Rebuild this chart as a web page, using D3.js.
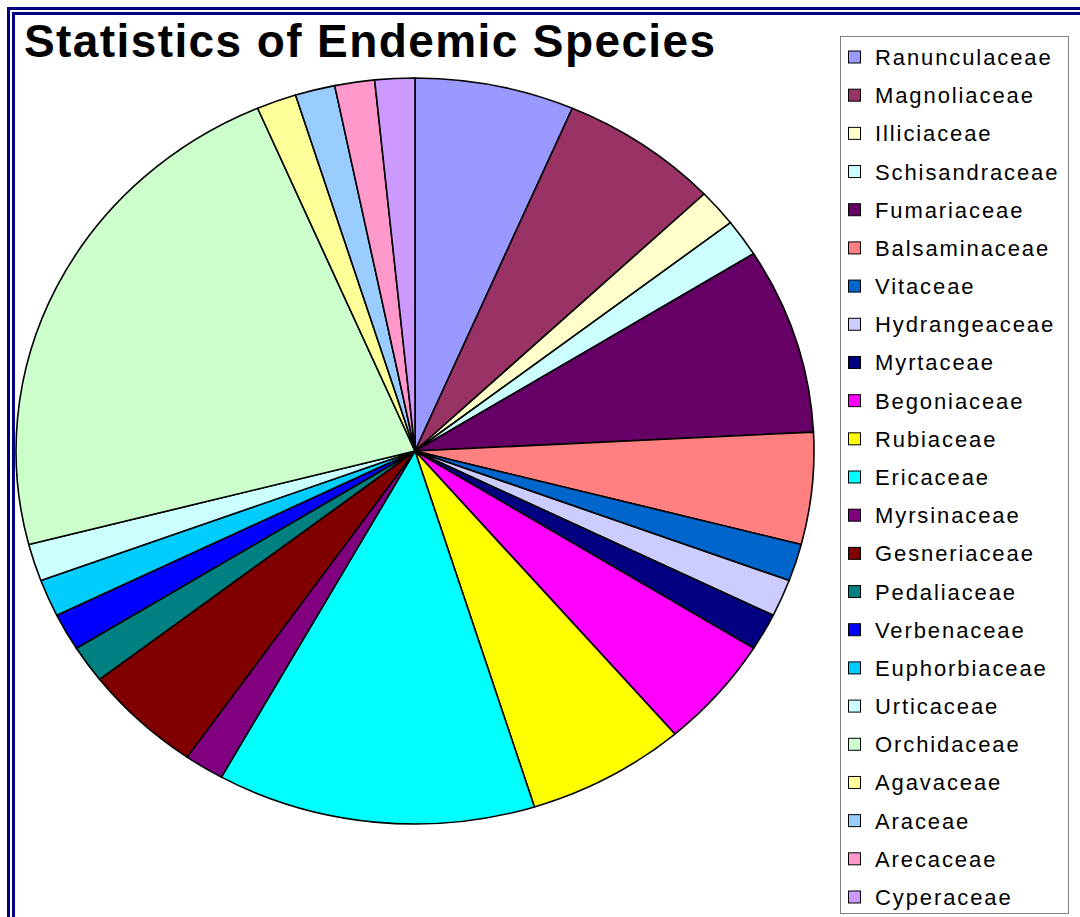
<!DOCTYPE html>
<html>
<head>
<meta charset="utf-8">
<script src="https://cdn.jsdelivr.net/npm/d3@7"></script>
<style>
  html, body { margin: 0; padding: 0; background: #fff; }
  svg { display: block; }
</style>
</head>
<body>
<svg id="chart" width="1080" height="917"></svg>
<script>
const families = ["Ranunculaceae","Magnoliaceae","Illiciaceae","Schisandraceae","Fumariaceae","Balsaminaceae","Vitaceae","Hydrangeaceae","Myrtaceae","Begoniaceae","Rubiaceae","Ericaceae","Myrsinaceae","Gesneriaceae","Pedaliaceae","Verbenaceae","Euphorbiaceae","Urticaceae","Orchidaceae","Agavaceae","Araceae","Arecaceae","Cyperaceae"];
const counts = [4,4,1,1,5,3,1,1,1,3,4,8,1,3,1,1,1,1,14,1,1,1,1];
const colors = ["#9999FF","#993366","#FFFFCC","#CCFFFF","#660066","#FF8080","#0066CC","#CCCCFF","#000080","#FF00FF","#FFFF00","#00FFFF","#800080","#800000","#008080","#0000FF","#00CCFF","#CCFFFF","#CCFFCC","#FFFF99","#99CCFF","#FF99CC","#CC99FF"];
const title = "Statistics of Endemic Species";

const svg = d3.select("#chart");

// double navy frame (extends beyond the picture on right and bottom)
svg.append("rect").attr("x", 8.5).attr("y", 8.5).attr("width", 1200).attr("height", 1200)
  .attr("fill", "none").attr("stroke", "#000080").attr("stroke-width", 3);
svg.append("rect").attr("x", 13.5).attr("y", 13.5).attr("width", 1200).attr("height", 1200)
  .attr("fill", "none").attr("stroke", "#000080").attr("stroke-width", 3);

// title
svg.append("text").attr("x", 24).attr("y", 57)
  .attr("font-family", "Liberation Sans, Arial, sans-serif")
  .attr("font-weight", "bold").attr("font-size", 46)
  .attr("letter-spacing", 1.4)
  .attr("fill", "#000").text(title);

// pie (slightly elliptical)
const cx = 415, cy = 451, rx = 399, ry = 373;
const color = d3.scaleOrdinal().domain(families).range(colors);
const pie = d3.pie().sort(null).value(d => d.v);
const data = families.map((f, i) => ({ f, v: counts[i] }));
const arc = d3.arc().innerRadius(0).outerRadius(rx);

const g = svg.append("g").attr("transform", `translate(${cx},${cy}) scale(1,${ry / rx})`);
g.selectAll("path").data(pie(data)).join("path")
  .attr("d", arc)
  .attr("fill", d => color(d.data.f))
  .attr("stroke", "#000")
  .attr("stroke-width", 1.6)
  .attr("vector-effect", "non-scaling-stroke")
  .attr("stroke-linejoin", "round");

// legend
const lx = 840.5, ly = 36.5, lw = 228, lh = 877;
svg.append("rect").attr("x", lx).attr("y", ly).attr("width", lw).attr("height", lh)
  .attr("fill", "#fff").attr("stroke", "#808080").attr("stroke-width", 1);

const rowY = d3.scalePoint().domain(families).range([57.5, 897.5]);
const items = svg.append("g").selectAll("g").data(families).join("g")
  .attr("transform", d => `translate(0,${rowY(d)})`);
items.append("rect").attr("x", 848.5).attr("y", -6.5).attr("width", 12).attr("height", 12)
  .attr("fill", d => color(d)).attr("stroke", "#000").attr("stroke-width", 1);
items.append("text").attr("x", 875).attr("y", 7.5)
  .attr("font-family", "Liberation Sans, Arial, sans-serif")
  .attr("font-size", 22).attr("letter-spacing", 1.9)
  .attr("fill", "#000").text(d => d);
</script>
</body>
</html>
